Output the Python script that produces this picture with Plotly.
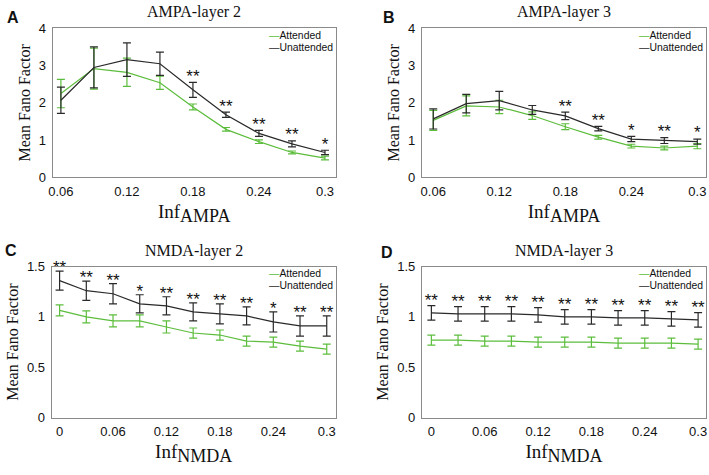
import plotly.graph_objects as go

# ---------------- data ----------------
x_ampa = [0.06, 0.09, 0.12, 0.15, 0.18, 0.21, 0.24, 0.27, 0.30]
x_nmda = [0.0, 0.03, 0.06, 0.09, 0.12, 0.15, 0.18, 0.21, 0.24, 0.27, 0.30]
x_ticks_ampa = [0.06, 0.12, 0.18, 0.24, 0.3]
x_ticks_nmda = [0, 0.06, 0.12, 0.18, 0.24, 0.3]
x_ticklabels_ampa = ["0.06", "0.12", "0.18", "0.24", "0.3"]
x_ticklabels_nmda = ["0", "0.06", "0.12", "0.18", "0.24", "0.3"]

# Panel A: AMPA-layer 2
a_att = [2.25, 2.92, 2.82, 2.54, 1.89, 1.29, 0.96, 0.67, 0.52]
a_att_err = [0.38, 0.55, 0.38, 0.18, 0.08, 0.05, 0.05, 0.04, 0.05]
a_un = [2.07, 2.95, 3.16, 3.05, 2.35, 1.68, 1.18, 0.90, 0.67]
a_un_err = [0.35, 0.55, 0.45, 0.31, 0.20, 0.07, 0.08, 0.08, 0.06]
a_sig = ["", "", "", "", "**", "**", "**", "**", "*"]

# Panel B: AMPA-layer 3
b_att = [1.53, 1.92, 1.89, 1.66, 1.36, 1.08, 0.84, 0.79, 0.84]
b_att_err = [0.27, 0.27, 0.18, 0.10, 0.08, 0.05, 0.05, 0.05, 0.07]
b_un = [1.57, 1.98, 2.06, 1.81, 1.65, 1.31, 1.03, 0.99, 0.96]
b_un_err = [0.27, 0.25, 0.25, 0.12, 0.10, 0.06, 0.07, 0.08, 0.07]
b_sig = ["", "", "", "", "**", "**", "*", "**", "*"]

# Panel C: NMDA-layer 2
c_att = [1.065, 1.00, 0.96, 0.96, 0.90, 0.84, 0.82, 0.76, 0.75, 0.71, 0.68]
c_att_err = [0.055, 0.06, 0.06, 0.06, 0.06, 0.05, 0.05, 0.05, 0.05, 0.05, 0.05]
c_un = [1.36, 1.26, 1.23, 1.13, 1.11, 1.05, 1.03, 1.01, 0.95, 0.91, 0.91]
c_un_err = [0.095, 0.095, 0.10, 0.09, 0.09, 0.09, 0.10, 0.09, 0.10, 0.10, 0.10]
c_sig = ["**", "**", "**", "*", "**", "**", "**", "**", "*", "**", "**"]

# Panel D: NMDA-layer 3
d_att = [0.77, 0.77, 0.76, 0.76, 0.75, 0.75, 0.75, 0.74, 0.74, 0.74, 0.73]
d_att_err = [0.05] * 11
d_un = [1.04, 1.03, 1.03, 1.03, 1.02, 1.00, 1.00, 0.99, 0.99, 0.98, 0.97]
d_un_err = [0.072] * 11
d_sig = ["**"] * 11

GREEN = "#5cbd3c"
BLACK = "#2a2a2a"
SERIF = "Liberation Serif, Times New Roman, serif"
SANS = "Liberation Sans, Arial, sans-serif"

W, H = 709, 475


def px_x(a, b):
    return [a / W, b / W]


def px_y(top, bottom):
    return [1 - bottom / H, 1 - top / H]


panels = [
    dict(key="", x=x_ampa, att=a_att, atte=a_att_err, un=a_un, une=a_un_err, sig=a_sig,
         dx=px_x(49, 334), dy=px_y(22, 176), xr=[0.0525, 0.3097], yr=[0, 4],
         yt=[0, 1, 2, 3, 4], ytl=["0", "1", "2", "3", "4"],
         xt=x_ticks_ampa, xtl=x_ticklabels_ampa, title="AMPA-layer 2", letter="A",
         sub="AMPA", star_off=0.13, lx=-40, ly=10),
    dict(key="2", x=x_ampa, att=b_att, atte=b_att_err, un=b_un, une=b_un_err, sig=b_sig,
         dx=px_x(421, 707), dy=px_y(22, 176), xr=[0.0498, 0.3079], yr=[0, 4],
         yt=[0, 1, 2, 3, 4], ytl=["0", "1", "2", "3", "4"],
         xt=x_ticks_ampa, xtl=x_ticklabels_ampa, title="AMPA-layer 3", letter="B",
         sub="AMPA", star_off=0.13, lx=-33.5, ly=10),
    dict(key="3", x=x_nmda, att=c_att, atte=c_att_err, un=c_un, une=c_un_err, sig=c_sig,
         dx=px_x(48, 334), dy=px_y(268, 424), xr=[-0.0089, 0.31], yr=[0, 1.5],
         yt=[0, 0.5, 1, 1.5], ytl=["0", "0.5", "1", "1.5"],
         xt=x_ticks_nmda, xtl=x_ticklabels_nmda, title="NMDA-layer 2", letter="C",
         sub="NMDA", star_off=0.02, lx=-40.5, ly=15),
    dict(key="4", x=x_nmda, att=d_att, atte=d_att_err, un=d_un, une=d_un_err, sig=d_sig,
         dx=px_x(421, 707), dy=px_y(268, 424), xr=[-0.0105, 0.3089], yr=[0, 1.5],
         yt=[0, 0.5, 1, 1.5], ytl=["0", "0.5", "1", "1.5"],
         xt=x_ticks_nmda, xtl=x_ticklabels_nmda, title="NMDA-layer 3", letter="D",
         sub="NMDA", star_off=0.04, lx=-35.5, ly=13),
]

fig = go.Figure()
annotations = []
layout = {}

for p in panels:
    k = p["key"]
    xa, ya = "x" + k, "y" + k
    fig.add_trace(go.Scatter(
        x=p["x"], y=p["att"], mode="lines", name="Attended", showlegend=False,
        line=dict(color=GREEN, width=1.2),
        error_y=dict(type="data", array=p["atte"], color=GREEN, thickness=1.2, width=4),
        xaxis=xa, yaxis=ya))
    fig.add_trace(go.Scatter(
        x=p["x"], y=p["un"], mode="lines", name="Unattended", showlegend=False,
        line=dict(color=BLACK, width=1.2),
        error_y=dict(type="data", array=p["une"], color=BLACK, thickness=1.2, width=4),
        xaxis=xa, yaxis=ya))
    # significance stars: only at points that carry a mark
    sx, sy, st = [], [], []
    for xv, m, e, s in zip(p["x"], p["un"], p["une"], p["sig"]):
        if s:
            sx.append(xv)
            sy.append(m + e + p["star_off"])
            st.append(s)
    fig.add_trace(go.Scatter(
        x=sx, y=sy, mode="text", text=st, textposition="middle center",
        textfont=dict(family=SANS, size=17, color="#111"), showlegend=False,
        hoverinfo="skip", cliponaxis=False, xaxis=xa, yaxis=ya))

    axis_common = dict(showline=True, linecolor="#8a8a8a", linewidth=1.2, mirror=True,
                       showgrid=False, zeroline=False, ticks="",
                       tickfont=dict(family=SANS, size=13, color="#111"))
    layout["xaxis" + k] = dict(
        domain=p["dx"], range=p["xr"], anchor=ya, tickmode="array",
        tickvals=p["xt"], ticktext=p["xtl"], ticklabelstandoff=2,
        title=dict(text="Inf<sub><span style='font-size:18px'>" + p["sub"] + "</span></sub>",
                   font=dict(family=SERIF, size=19, color="#111"), standoff=6),
        **axis_common)
    layout["yaxis" + k] = dict(
        domain=p["dy"], range=p["yr"], anchor=xa, tickmode="array",
        tickvals=p["yt"], ticktext=p["ytl"], ticklabelstandoff=3,
        title=dict(text="Mean Fano Factor", font=dict(family=SERIF, size=16, color="#111"),
                   standoff=4),
        **axis_common)

    x0, x1 = p["dx"]
    y0, y1 = p["dy"]
    # panel title
    annotations.append(dict(text=p["title"], xref="paper", yref="paper",
                            x=(x0 + x1) / 2, y=y1, yanchor="bottom", xanchor="center",
                            yshift=5, showarrow=False,
                            font=dict(family=SERIF, size=16, color="#111")))
    # panel letter
    annotations.append(dict(text="<b>" + p["letter"] + "</b>", xref="paper", yref="paper",
                            x=x0, y=y1, xanchor="center", yanchor="middle",
                            xshift=p["lx"], yshift=p["ly"] + 1, showarrow=False,
                            font=dict(family=SANS, size=16, color="#111")))
    # legend (two rows)
    for i, (name, col) in enumerate([("Attended", GREEN), ("Unattended", BLACK)]):
        annotations.append(dict(
            text="<span style='color:%s'>—</span>%s" % (col, name),
            xref="paper", yref="paper", x=x1, y=y1, xanchor="left", yanchor="middle",
            xshift=-68, yshift=-7 - 12 * i, showarrow=False, align="left",
            borderpad=0, font=dict(family=SANS, size=10.4, color="#111")))

fig.update_layout(
    width=W, height=H, margin=dict(l=0, r=0, t=0, b=0),
    paper_bgcolor="white", plot_bgcolor="white",
    showlegend=False, annotations=annotations, **layout)

fig.write_html("out.html", config={"displayModeBar": False},
               post_script="document.body.style.margin='0';document.body.style.overflow='hidden';")
